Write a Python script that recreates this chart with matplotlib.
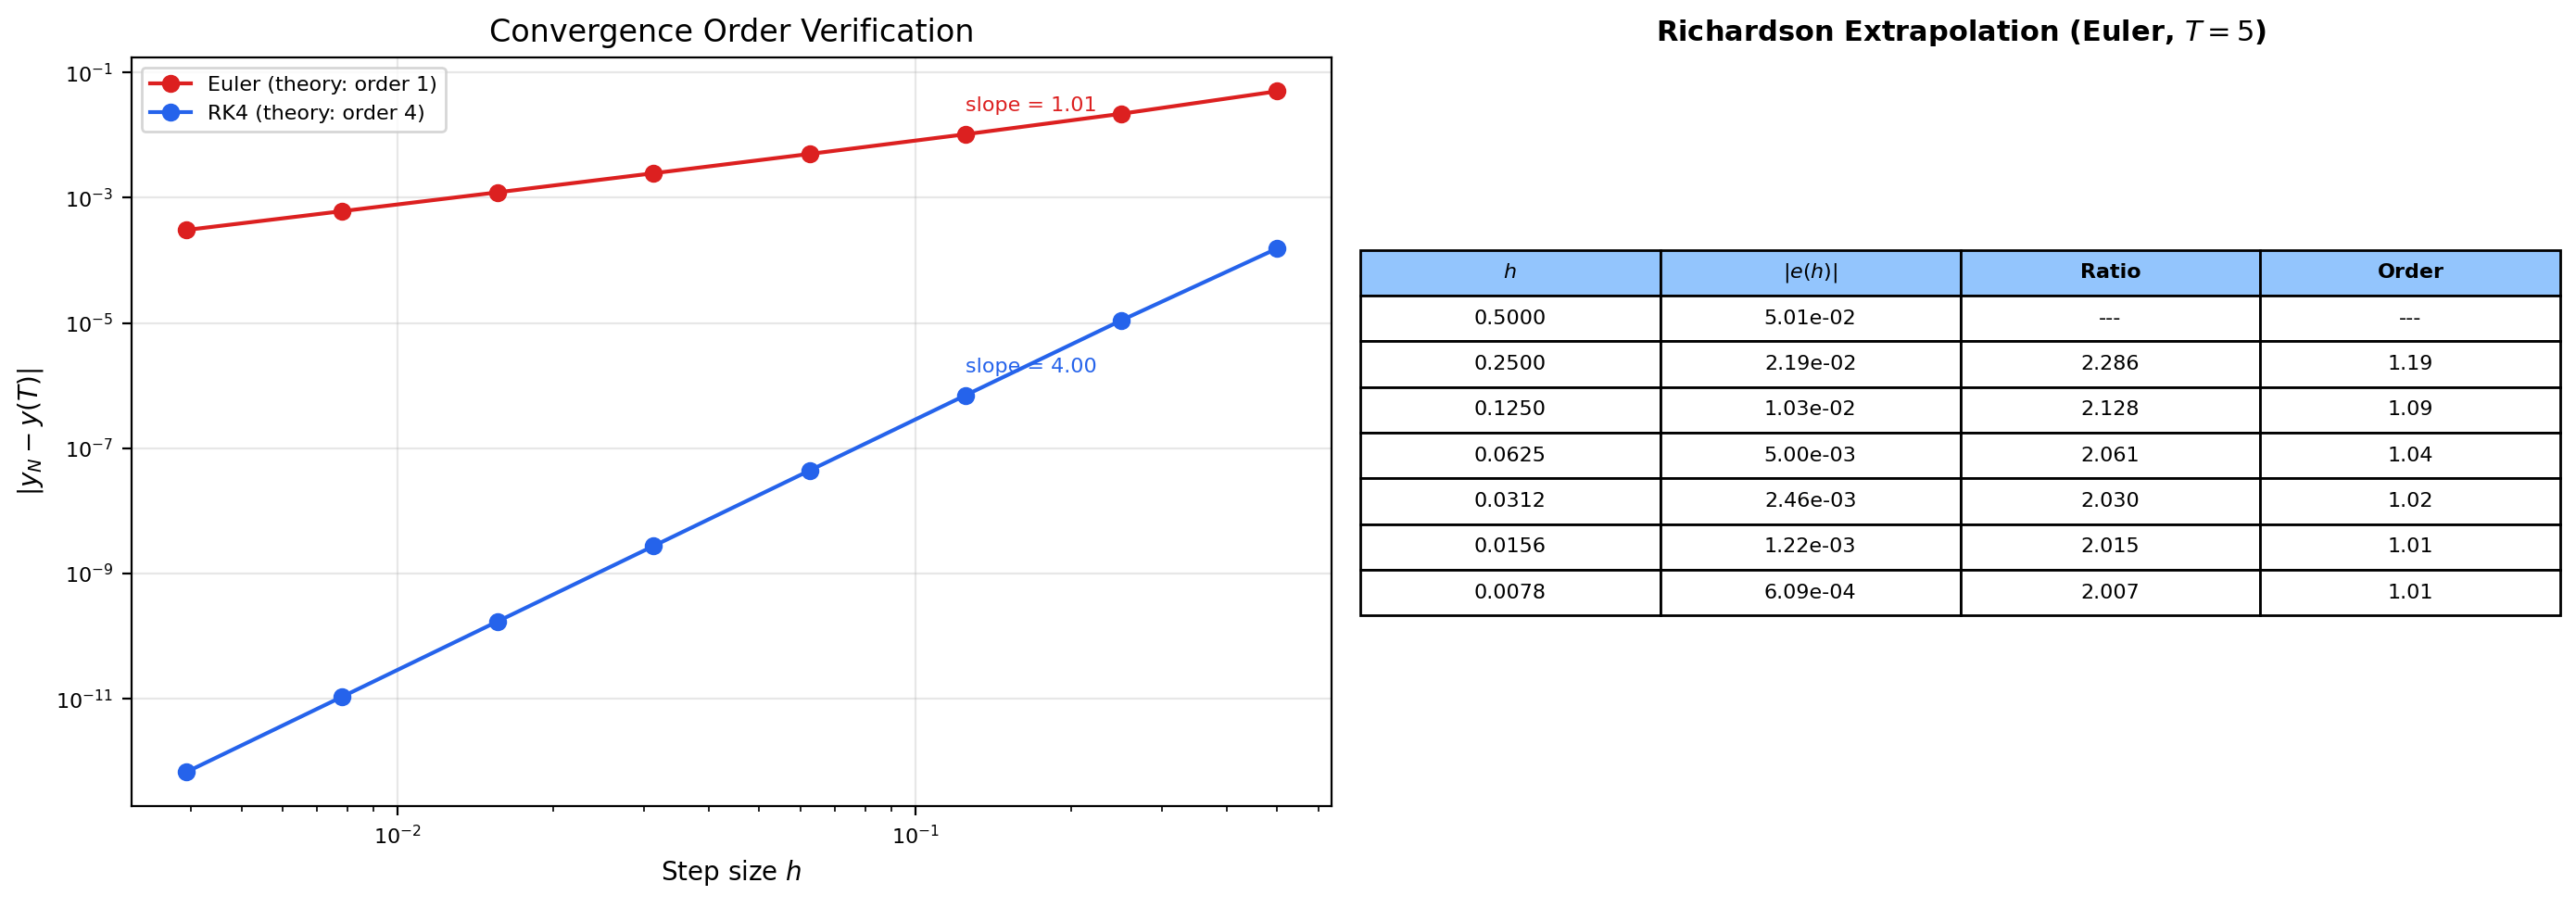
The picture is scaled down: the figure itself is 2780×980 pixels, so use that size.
import matplotlib
matplotlib.use("Agg")
import matplotlib.pyplot as plt
import numpy as np

h = [0.5, 0.25, 0.125, 0.0625, 0.03125, 0.015625, 0.0078125, 0.00390625]
err_euler = [5.01e-2, 2.19e-2, 1.03e-2, 5.00e-3, 2.46e-3, 1.22e-3, 6.09e-4, 3.05e-4]
err_rk4 = [1.55e-4, 1.1e-5, 7.0e-7, 4.4e-8, 2.75e-9, 1.72e-10, 1.07e-11, 6.7e-13]
slope_euler = "slope = 1.01"
slope_rk4 = "slope = 4.00"

col_labels = ["$h$", "$|e(h)|$", "Ratio", "Order"]
tab_h = ["0.5000", "0.2500", "0.1250", "0.0625", "0.0312", "0.0156", "0.0078"]
tab_e = ["5.01e-02", "2.19e-02", "1.03e-02", "5.00e-03", "2.46e-03", "1.22e-03", "6.09e-04"]
tab_r = ["---", "2.286", "2.128", "2.061", "2.030", "2.015", "2.007"]
tab_o = ["---", "1.19", "1.09", "1.04", "1.02", "1.01", "1.01"]

fig = plt.figure(figsize=(13.9, 4.9), dpi=200)
ax = fig.add_axes([0.051, 0.112, 0.466, 0.825])
ax.loglog(h, err_euler, "o-", color="#dc2020", lw=1.5, ms=6, label="Euler (theory: order 1)")
ax.loglog(h, err_rk4, "o-", color="#2563eb", lw=1.5, ms=6, label="RK4 (theory: order 4)")
ax.text(0.125, err_euler[2] * 2.3, slope_euler, color="#dc2020", fontsize=8)
ax.text(0.125, err_rk4[2] * 2.3, slope_rk4, color="#2563eb", fontsize=8)
ax.set_xlabel("Step size $h$", fontsize=10)
ax.set_ylabel("$|y_N - y(T)|$", fontsize=10)
ax.set_title("Convergence Order Verification", fontsize=12)
ax.grid(True, alpha=0.3)
ax.tick_params(labelsize=8)
ax.legend(fontsize=8, loc="upper left")

fig.text(0.7615, 0.964, "Richardson Extrapolation (Euler, $T=5$)", fontsize=11,
         fontweight="bold", ha="center", va="center")
ax2 = fig.add_axes([0.528, 0.322, 0.466, 0.403])
ax2.axis("off")
rows = [list(r) for r in zip(tab_h, tab_e, tab_r, tab_o)]
tbl = ax2.table(cellText=rows, colLabels=col_labels, cellLoc="center",
                bbox=[0, 0, 1, 1])
tbl.auto_set_font_size(False)
tbl.set_fontsize(8)
for (r, c), cell in tbl.get_celld().items():
    if r == 0:
        cell.set_facecolor("#93c5fd")
        cell.set_text_props(fontweight="bold")
fig.savefig("out.png", dpi=200)
